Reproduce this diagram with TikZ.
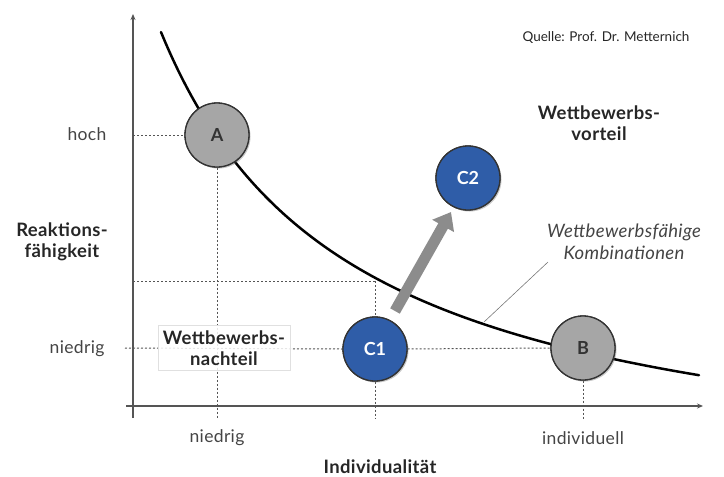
\documentclass[tikz,border=0pt]{standalone}
\usepackage{fontspec}
\setmainfont{Lato}
\usetikzlibrary{arrows.meta,shadows}
\definecolor{cblue}{HTML}{2F5DA8}
\definecolor{cgray}{HTML}{A6A6A6}
\definecolor{agray}{HTML}{8C8C8C}
\definecolor{tgray}{HTML}{444444}
\definecolor{lgray}{HTML}{555555}
\begin{document}
\begin{tikzpicture}[x=1pt,y=-1pt,
  axis/.style={draw=lgray,line width=1.2pt,-{Stealth[length=6pt,width=5pt]}},
  grid/.style={draw=lgray,line width=1pt,dash pattern=on 2pt off 2pt},
  ball/.style={circle,minimum size=64pt,inner sep=0pt,draw=black!80,line width=1.3pt,
     font=\bfseries\fontsize{18}{18}\selectfont,
     drop shadow={shadow xshift=1.5pt,shadow yshift=-1.5pt,opacity=0.25}},
  grayball/.style={ball,fill=cgray,text=black!80},
  blueball/.style={ball,fill=cblue,text=white},
  tick/.style={text=tgray,font=\fontsize{17.5}{17.5}\selectfont\addfontfeatures{LetterSpace=2}},
  blab/.style={text=black!85,font=\bfseries\fontsize{18.5}{21}\selectfont\addfontfeatures{LetterSpace=2},align=center},
]
\useasboundingbox (0,0) rectangle (724,477);
% axes
\coordinate (yb) at (133,418);
\coordinate (yt) at (133,14);
\coordinate (xl) at (126,406);
\coordinate (xr) at (703,406);
\draw[axis] (yb) -- (yt);
\draw[axis] (xl) -- (xr);
% helper coordinates
\coordinate (hA) at (133,135);
\coordinate (vA) at (217,418);
\coordinate (h3) at (133,281);
\coordinate (p3) at (375,281);
\coordinate (vC) at (375,418);
\coordinate (vB) at (583,420);
\coordinate (hN) at (125,348);
% circles (nodes)
\node[grayball] (A) at (217,135) {A};
\node[grayball] (B) at (583,348) {B};
\node[blueball] (C1) at (375,349) {C1};
\node[blueball] (C2) at (468,178) {C2};
% dotted guide lines
\draw[grid] (hA) -- (A.west);
\draw[grid] (A.south) -- (vA);
\draw[grid] (h3) -- (p3);
\draw[grid] (p3) -- (C1.north);
\draw[grid] (C1.south) -- (vC);
\draw[grid] (B.south) -- (vB);
\draw[grid] (hN) -- (C1.west);
\draw[grid] (C1.east) -- (B.west);
% curve
\draw[black,line width=2.5pt,line cap=round] plot[domain=161:699,samples=120,smooth] (\x,{497-888/((\x+30)/100)});
% redraw circles on top of curve and lines
\node[grayball] at (A) {A};
\node[grayball] at (B) {B};
\node[blueball] at (C1) {C1};
\node[blueball] at (C2) {C2};
% arrow C1 -> C2
\coordinate (at) at (395,311);
\coordinate (ah) at (451,212);
\draw[agray,line width=11pt,-{Triangle[length=16pt,width=24pt]}] (at) -- (ah);
% leader line
\coordinate (lc) at (484,322);
\coordinate (lt) at (548,262);
\draw[lgray!80,line width=0.6pt] (lc) -- (lt);
% labels
\node[tick,anchor=east] (lhoch) at (110,134) {hoch};
\node[tick,anchor=east] (lniedy) at (108,349) {niedrig};
\node[tick] (lniedx) at (217,438) {niedrig};
\node[tick] (lind) at (583,438) {individuell};
\node[blab] (lreak) at (62,242) {Reaktions-\\fähigkeit};
\node[blab] (lindiv) at (380,467) {Individualität};
\node[blab] (lvort) at (599,123) {Wettbewerbs-\\vorteil};
\node[blab,draw=black!12,fill=white,fill opacity=0.85,text opacity=1,minimum width=132pt,minimum height=45pt,inner sep=1pt] (lnach) at (224,348) {Wettbewerbs-\\nachteil};
\node[text=tgray,font=\itshape\fontsize{18.5}{22}\selectfont\addfontfeatures{LetterSpace=2},align=center] (lkomb) at (624,242) {Wettbewerbsfähige\\Kombinationen};
\node[text=black!85,font=\fontsize{13.5}{13.5}\selectfont] (lq) at (606,38) {Quelle: Prof. Dr. Metternich};
\end{tikzpicture}
\end{document}
